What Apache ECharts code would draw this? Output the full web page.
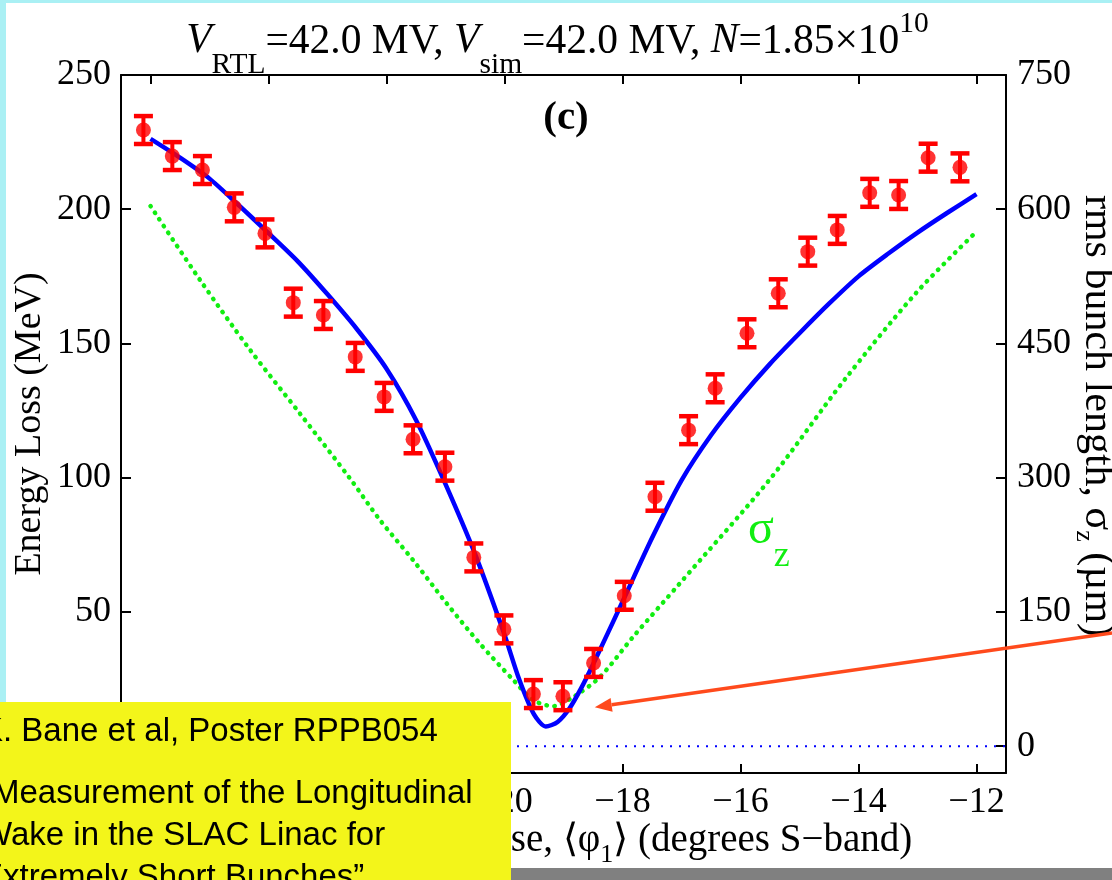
<!DOCTYPE html>
<html>
<head>
<meta charset="utf-8">
<script src="https://cdn.jsdelivr.net/npm/echarts@6/dist/echarts.min.js"></script>
<style>
  html, body { margin: 0; padding: 0; background: #fff; }
  #chart { width: 1112px; height: 880px; }
</style>
</head>
<body>
<div id="chart"></div>
<script>
// measured energy loss (MeV) vs phase (deg S-band)
const phase = [-26.12, -25.63, -25.12, -24.58, -24.06, -23.58, -23.07, -22.53, -22.04, -21.55,
  -21.01, -20.52, -20.01, -19.51, -19.01, -18.49, -17.97, -17.45, -16.88, -16.43,
  -15.89, -15.36, -14.86, -14.36, -13.81, -13.32, -12.82, -12.28]
const energyLoss = [229.5, 219.8, 214.6, 200.7, 191.0, 165.2, 160.6, 145.0, 130.1, 114.3,
  104.1, 70.3, 43.5, 19.4, 18.6, 31.0, 56.0, 92.9, 117.7, 133.3,
  153.8, 168.7, 184.2, 192.3, 206.1, 205.3, 219.2, 215.6]
const errBar = [5.2, 5.2, 5.2, 5.2, 5.2, 5.2, 5.2, 5.2, 5.2, 5.2,
  5.2, 5.2, 5.2, 5.2, 5.2, 5.2, 5.2, 5.2, 5.2, 5.2,
  5.2, 5.2, 5.2, 5.2, 5.2, 5.2, 5.2, 5.2]

// simulation (blue)
const theoryPhase = [-26.0, -25.5, -25.0, -24.5, -24.0, -23.5, -23.0, -22.5, -22.0, -21.5,
  -21.0, -20.5, -20.0, -19.75, -19.5, -19.3, -19.1, -18.9, -18.7, -18.5,
  -18.0, -17.5, -17.0, -16.5, -16.0, -15.5, -15.0, -14.5, -14.0, -13.5,
  -13.0, -12.5, -12.0]
const theoryLoss = [226.2, 219.2, 211.4, 201.4, 191.1, 180.5, 168.3, 155.3, 140.6, 121.5,
  97.6, 71.6, 41.5, 24.8, 11.8, 7.3, 9.0, 14.0, 21.6, 30.4,
  53.8, 77.5, 99.0, 115.8, 129.8, 142.4, 153.8, 164.8, 175.0, 183.4,
  191.3, 198.6, 205.6]

// rms bunch length (green, right axis, um)
const sigmaPhase = [-26.0, -25.16, -24.31, -23.47, -22.62, -22.11, -21.55, -20.98, -20.42, -19.85,
  -19.51, -19.17, -18.83, -18.38, -17.82, -17.03, -15.49, -14.24, -13.03, -12.0]
const sigmaZ = [603.6, 520.9, 442.6, 371.9, 299.2, 252.6, 207.9, 159.5, 114.8, 73.8,
  51.4, 44.7, 55.1, 77.5, 122.2, 181.8, 299.2, 409.1, 506.0, 575.0]

const xTicks = [-26, -24, -22, -20, -18, -16, -14, -12]
const lossTicks = [0, 50, 100, 150, 200, 250]
const sigmaTicks = [0, 150, 300, 450, 600, 750]
const sigmaLabelAt = [-15.52, 218]
const arrowTip = [-18.47, 14.5]

const noteLines = [
  'K. Bane et al, Poster RPPB054',
  '\u201cMeasurement of the Longitudinal',
  'Wake in the SLAC Linac for',
  'Extremely Short Bunches\u201d',
]

const serif = "'Liberation Serif', 'Times New Roman', serif"
const sans = "'Liberation Sans', Arial, sans-serif"

const chart = echarts.init(document.getElementById('chart'))

const axisCommon = {
  type: 'value',
  axisLine: { show: true, onZero: false, lineStyle: { color: '#000', width: 2 } },
  splitLine: { show: false },
  nameMoveOverlap: false,
}
const tickStyle = { color: '#000', width: 2 }
const labelStyle = { fontFamily: serif, fontSize: 36, color: '#000' }
// sub/superscripts: every token is top aligned, the padding pushes it down
const richName = (size, tail) => ({
  n: { fontFamily: serif, fontSize: size, lineHeight: 70, verticalAlign: 'top', padding: [10, 0, 0, 0], color: '#000' },
  e: { fontFamily: serif, fontSize: size, lineHeight: 70, verticalAlign: 'top', padding: [10, tail, 0, 0], color: '#000' },
  sub: { fontFamily: serif, fontSize: 26, lineHeight: 70, verticalAlign: 'top', padding: [31, 0, 0, 0], color: '#000' },
})

const option = {
  animation: false,
  backgroundColor: '#fff',
  grid: { left: 121, right: 106, top: 75, bottom: 107, outerBoundsMode: 'none' },
  xAxis: [
    {
      ...axisCommon,
      position: 'bottom',
      min: -26.5,
      max: -11.5,
      axisTick: { inside: true, length: 9, customValues: xTicks, lineStyle: tickStyle },
      axisLabel: {
        ...labelStyle,
        customValues: xTicks,
        margin: 12,
        formatter: (v) => String(v).replace('-', '\u2212'),
      },
      name: '{n|Average Linac Phase, \u27e8\u03c6}{sub|1}{n|\u27e9 (degrees S\u2212band)}',
      nameLocation: 'middle',
      nameGap: 38,
      nameTextStyle: { rich: richName(39, 0) },
    },
    {
      ...axisCommon,
      position: 'top',
      min: -26.5,
      max: -11.5,
      axisTick: { inside: true, length: 9, customValues: xTicks, lineStyle: tickStyle },
      axisLabel: { show: false },
    },
  ],
  yAxis: [
    {
      ...axisCommon,
      position: 'left',
      min: -10,
      max: 250,
      axisTick: { inside: true, length: 10, customValues: lossTicks, lineStyle: tickStyle },
      axisLabel: { ...labelStyle, customValues: lossTicks, margin: 10 },
      name: 'Energy Loss (MeV)',
      nameLocation: 'middle',
      nameRotate: 90,
      nameGap: 71,
      nameTextStyle: { fontFamily: serif, fontSize: 38, lineHeight: 40, color: '#000' },
    },
    {
      ...axisCommon,
      position: 'right',
      min: -30,
      max: 750,
      axisTick: { inside: true, length: 10, customValues: sigmaTicks, lineStyle: tickStyle },
      axisLabel: { ...labelStyle, customValues: sigmaTicks, margin: 11 },
      name: '{n|rms bunch length, \u03c3}{sub|z}{e| (\u00b5m)}',
      nameLocation: 'middle',
      nameRotate: -90,
      nameGap: 52,
      nameTextStyle: { rich: richName(42, 16) },
    },
  ],
  series: [
    {
      name: 'sigma_z',
      type: 'line',
      xAxisIndex: 0,
      yAxisIndex: 1,
      data: sigmaPhase.map((p, i) => [p, sigmaZ[i]]),
      symbol: 'none',
      smooth: 0.3,
      lineStyle: { color: '#11ee11', width: 4.5, type: [0.5, 7.5], cap: 'round' },
      z: 2,
      markPoint: {
        silent: true,
        symbol: 'circle',
        symbolSize: 0,
        data: [{ coord: sigmaLabelAt }],
        label: {
          show: true,
          position: 'inside',
          formatter: '{s|\u03c3}{z|z}',
          rich: {
            s: { fontFamily: serif, fontSize: 48, lineHeight: 90, verticalAlign: 'top', padding: [0, 0, 0, 0], color: '#11ee11' },
            z: { fontFamily: serif, fontSize: 36, lineHeight: 90, verticalAlign: 'top', padding: [32, 0, 0, 0], color: '#11ee11' },
          },
        },
      },
    },
    {
      name: 'zero',
      type: 'line',
      data: [[-26.5, 0], [-11.5, 0]],
      symbol: 'none',
      silent: true,
      lineStyle: { color: '#0000ff', width: 2, type: [2, 7] },
      z: 2,
    },
    {
      name: 'simulation',
      type: 'line',
      data: theoryPhase.map((p, i) => [p, theoryLoss[i]]),
      symbol: 'none',
      smooth: 0.25,
      lineStyle: { color: '#0000ff', width: 4.5 },
      z: 3,
    },
    {
      name: 'error',
      type: 'custom',
      data: phase.map((p, i) => [p, energyLoss[i] - errBar[i], energyLoss[i] + errBar[i]]),
      encode: { x: 0, y: [1, 2] },
      z: 4,
      renderItem: (params, api) => {
        const lo = api.coord([api.value(0), api.value(1)])
        const hi = api.coord([api.value(0), api.value(2)])
        const w = 9.5
        const stem = { stroke: '#ff0000', lineWidth: 4 }
        const cap = { stroke: '#ff0000', lineWidth: 4.5 }
        return {
          type: 'group',
          children: [
            { type: 'line', shape: { x1: lo[0], y1: lo[1], x2: hi[0], y2: hi[1] }, style: stem },
            { type: 'line', shape: { x1: lo[0] - w, y1: lo[1], x2: lo[0] + w, y2: lo[1] }, style: cap },
            { type: 'line', shape: { x1: hi[0] - w, y1: hi[1], x2: hi[0] + w, y2: hi[1] }, style: cap },
          ],
        }
      },
    },
    {
      name: 'measured',
      type: 'scatter',
      data: phase.map((p, i) => [p, energyLoss[i]]),
      symbol: 'circle',
      symbolSize: 15,
      itemStyle: { color: '#ff0000' },
      z: 5,
    },
  ],
}

chart.setOption(option)

// overlay: slide frame, title, note box and arrow
const tip = chart.convertToPixel({ xAxisIndex: 0, yAxisIndex: 0 }, arrowTip)
const tail = [1112, 633]
const ang = Math.atan2(tail[1] - tip[1], tail[0] - tip[0])
const headLen = 17
const headHalf = 7
const base = [tip[0] + Math.cos(ang) * headLen, tip[1] + Math.sin(ang) * headLen]
const perp = [-Math.sin(ang) * headHalf, Math.cos(ang) * headHalf]

const noteY = [731.5, 793.5, 835.5, 877.5]

const titleTok = { fontFamily: serif, fontSize: 41.5, lineHeight: 90, verticalAlign: 'top', padding: [12, 0, 0, 0], fill: '#000' }

chart.setOption({
  graphic: [
    { type: 'rect', z: 100, shape: { x: 0, y: 0, width: 6, height: 880 }, style: { fill: '#aaf0f4' } },
    { type: 'rect', z: 100, shape: { x: 0, y: 0, width: 1112, height: 3 }, style: { fill: '#aaf0f4' } },
    {
      type: 'text',
      z: 100,
      style: {
        x: 557.5,
        y: 54,
        align: 'center',
        verticalAlign: 'middle',
        text: '{i|V}{sub|RTL}{n|=42.0 MV, }{i|V}{sub|sim}{n|=42.0 MV, }{i|N}{n|=1.85\u00d710}{sup|10}',
        rich: {
          n: titleTok,
          i: { ...titleTok, fontStyle: 'italic' },
          sub: { ...titleTok, fontSize: 29.5, padding: [41, 0, 0, 0] },
          sup: { ...titleTok, fontSize: 29.5, padding: [0, 0, 0, 0] },
        },
      },
    },
    {
      type: 'text',
      z: 100,
      style: { x: 566, y: 118, align: 'center', verticalAlign: 'middle', text: '(c)', font: 'bold 41px ' + serif, fill: '#000' },
    },
    { type: 'rect', z: 100, shape: { x: 0, y: 702, width: 511, height: 178 }, style: { fill: '#f3f51a' } },
    ...noteLines.map((t, i) => ({
      type: 'text',
      z: 101,
      style: { x: -19, y: noteY[i], align: 'left', verticalAlign: 'middle', text: t, font: '33px ' + sans, fill: '#000' },
    })),
    { type: 'rect', z: 100, shape: { x: 511, y: 868, width: 601, height: 12 }, style: { fill: '#808080' } },
    {
      type: 'line',
      z: 102,
      shape: { x1: tail[0], y1: tail[1], x2: base[0], y2: base[1] },
      style: { stroke: '#ff4a1c', lineWidth: 3.5 },
    },
    {
      type: 'polygon',
      z: 102,
      shape: { points: [tip, [base[0] + perp[0], base[1] + perp[1]], [base[0] - perp[0], base[1] - perp[1]]] },
      style: { fill: '#ff4a1c' },
    },
  ],
})
</script>
</body>
</html>
